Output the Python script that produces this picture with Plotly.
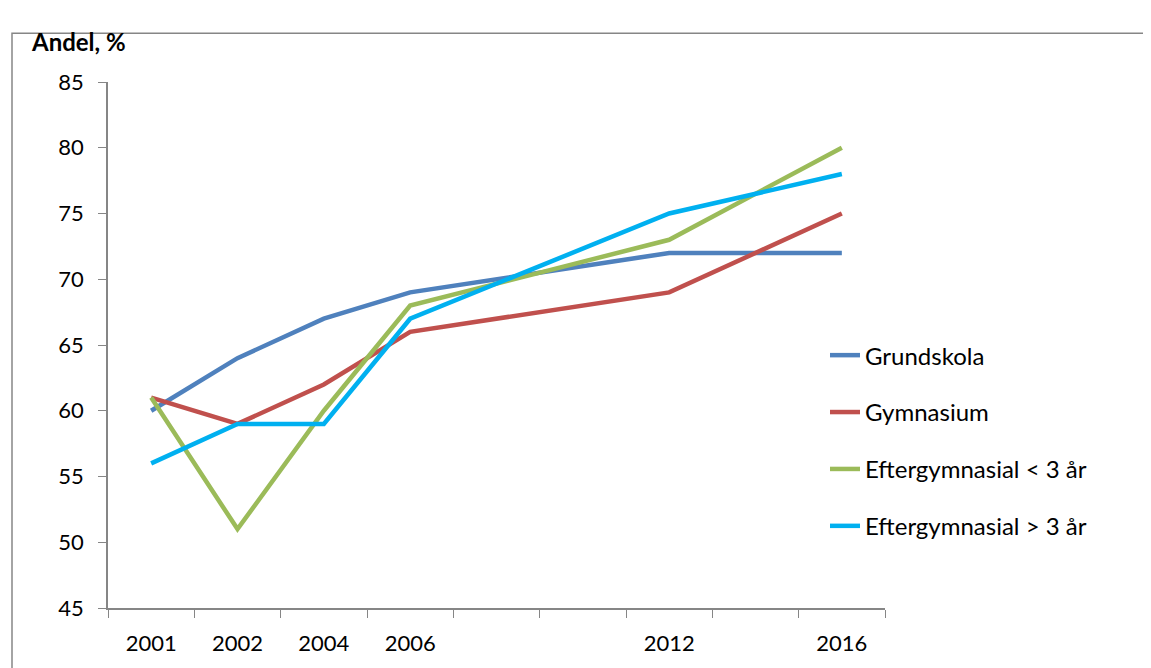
import plotly.graph_objects as go

categories = ["2001", "2002", "2004", "2006", "2008", "2010", "2012", "2014", "2016"]
tick_labels = ["2001", "2002", "2004", "2006", "", "", "2012", "", "2016"]

grundskola = [60, 64, 67, 69, None, None, 72, None, 72]
gymnasium = [61, 59, 62, 66, None, None, 69, None, 75]
efter_lt3 = [61, 51, 60, 68, None, None, 73, None, 80]
efter_gt3 = [56, 59, 59, 67, None, None, 75, None, 78]

series_names = ["Grundskola", "Gymnasium", "Eftergymnasial < 3 år", "Eftergymnasial > 3 år"]
series_values = [grundskola, gymnasium, efter_lt3, efter_gt3]
colors = ["#4F81BD", "#C0504D", "#9BBB59", "#00B0F0"]

FONT = "Lato"
GRAY = "#868686"

fig = go.Figure()
for i, (name, vals, col) in enumerate(zip(series_names, series_values, colors)):
    fig.add_trace(go.Scatter(
        x=categories, y=vals, name=name, mode="lines",
        line=dict(color=col, width=4.5), connectgaps=True,
        legendgroup=f"g{i}",
    ))

# the page body has an 8px margin, so figure coords = screen coords - 8
OFF = 8
W, H = 1151 - OFF, 668 - OFF
L, T = 108 - OFF, 82 - OFF
PR, PB = 885 - OFF, 610 - OFF
R, B = W - PR, H - PB
pw, ph = PR - L, PB - T

def px(xs):
    return (xs - OFF - L) / pw

def py(ys):
    return 1 - (ys - OFF - T) / ph

fig.update_layout(
    width=W, height=H,
    margin=dict(l=L, r=R, t=T, b=B),
    plot_bgcolor="white", paper_bgcolor="white",
    font=dict(family=FONT, size=22, color="black"),
    showlegend=True,
    legend=dict(
        x=px(825), y=py(334), xanchor="left", yanchor="top",
        font=dict(family=FONT, size=24, color="black"),
        tracegroupgap=22.7, bgcolor="rgba(0,0,0,0)",
    ),
    xaxis=dict(
        type="category", categoryorder="array", categoryarray=categories,
        tickmode="array", tickvals=categories, ticktext=tick_labels,
        tickson="boundaries", ticks="outside", ticklen=8, tickcolor=GRAY,
        showline=True, linecolor=GRAY, linewidth=1.5, showgrid=False,
        range=[-0.5, 8.5], tickfont=dict(family=FONT, size=22),
        ticklabelstandoff=15,
    ),
    yaxis=dict(
        range=[45, 85], dtick=5, tick0=45, ticks="outside", ticklen=8,
        tickcolor=GRAY, showline=True, linecolor=GRAY, linewidth=1.5,
        showgrid=False, zeroline=False, tickfont=dict(family=FONT, size=22),
        ticklabelstandoff=10,
    ),
)

# outer chart border (partially outside viewport like the reference)
fig.add_shape(type="rect", xref="paper", yref="paper",
              x0=px(12), x1=px(1160), y0=py(680), y1=py(33),
              line=dict(color=GRAY, width=1.5), layer="below")

fig.add_annotation(text="<b>Andel, %</b>", xref="paper", yref="paper",
                   x=px(29), y=py(41), xanchor="left", yanchor="middle",
                   showarrow=False, font=dict(family=FONT, size=24, color="black"))

fig.write_html("out.html")
